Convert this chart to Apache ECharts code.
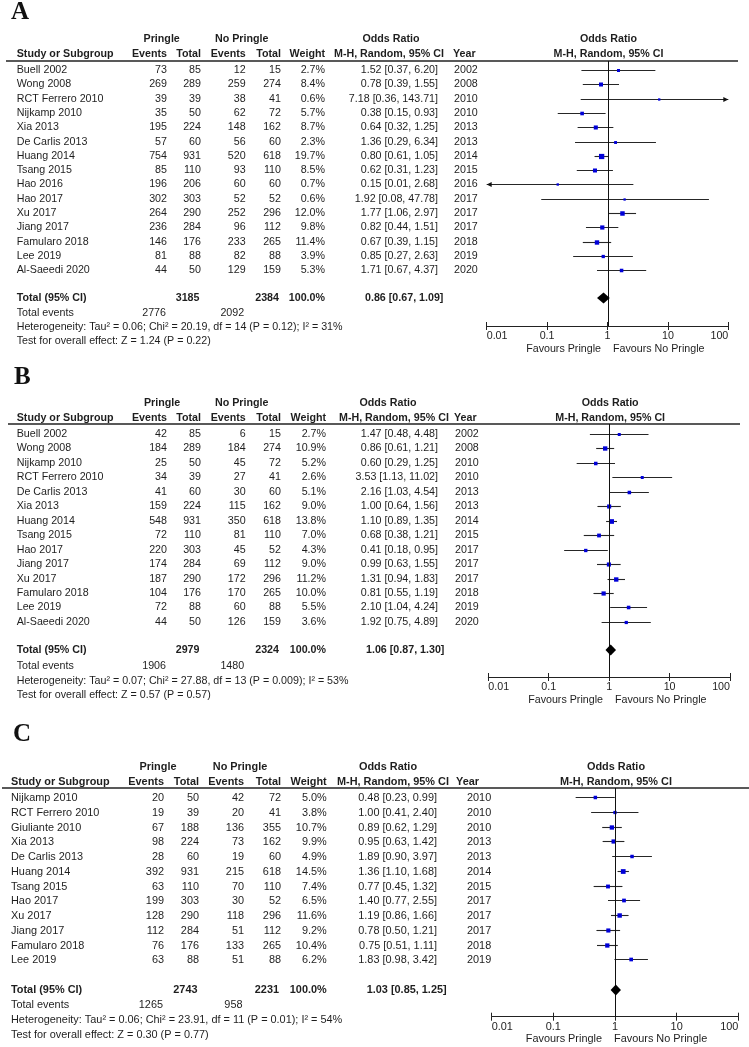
<!DOCTYPE html>
<html>
<head>
<meta charset="utf-8">
<script src="https://cdn.jsdelivr.net/npm/echarts@6.0.0/dist/echarts.min.js"></script>
<style>
html, body { margin: 0; padding: 0; background: #fff; }
#main { width: 749px; height: 1047px; }
</style>
</head>
<body>
<div id="main"></div>
<script>
// ---- panel A ----
var aStudies = ['Buell 2002', 'Wong 2008', 'RCT Ferrero 2010', 'Nijkamp 2010', 'Xia 2013', 'De Carlis 2013', 'Huang 2014', 'Tsang 2015', 'Hao 2016', 'Hao 2017', 'Xu 2017', 'Jiang 2017', 'Famularo 2018', 'Lee 2019', 'Al-Saeedi 2020'];
var aEvents1 = [73, 269, 39, 35, 195, 57, 754, 85, 196, 302, 264, 236, 146, 81, 44];
var aTotal1 = [85, 289, 39, 50, 224, 60, 931, 110, 206, 303, 290, 284, 176, 88, 50];
var aEvents2 = [12, 259, 38, 62, 148, 56, 520, 93, 60, 52, 252, 96, 233, 82, 129];
var aTotal2 = [15, 274, 41, 72, 162, 60, 618, 110, 60, 52, 296, 112, 265, 88, 159];
var aWeight = [2.7, 8.4, 0.6, 5.7, 8.7, 2.3, 19.7, 8.5, 0.7, 0.6, 12.0, 9.8, 11.4, 3.9, 5.3];
var aOR = [1.52, 0.78, 7.18, 0.38, 0.64, 1.36, 0.80, 0.62, 0.15, 1.92, 1.77, 0.82, 0.67, 0.85, 1.71];
var aLow = [0.37, 0.39, 0.36, 0.15, 0.32, 0.29, 0.61, 0.31, 0.01, 0.08, 1.06, 0.44, 0.39, 0.27, 0.67];
var aHigh = [6.20, 1.55, 143.71, 0.93, 1.25, 6.34, 1.05, 1.23, 2.68, 47.78, 2.97, 1.51, 1.15, 2.63, 4.37];
var aYear = [2002, 2008, 2010, 2010, 2013, 2013, 2014, 2015, 2016, 2017, 2017, 2017, 2018, 2019, 2020];
var aTotals = [3185, 2384];
var aTotalEvents = [2776, 2092];
var aPooled = [0.86, 0.67, 1.09];
var aHet = 'Heterogeneity: Tau² = 0.06; Chi² = 20.19, df = 14 (P = 0.12); I² = 31%';
var aTest = 'Test for overall effect: Z = 1.24 (P = 0.22)';

// ---- panel B ----
var bStudies = ['Buell 2002', 'Wong 2008', 'Nijkamp 2010', 'RCT Ferrero 2010', 'De Carlis 2013', 'Xia 2013', 'Huang 2014', 'Tsang 2015', 'Hao 2017', 'Jiang 2017', 'Xu 2017', 'Famularo 2018', 'Lee 2019', 'Al-Saeedi 2020'];
var bEvents1 = [42, 184, 25, 34, 41, 159, 548, 72, 220, 174, 187, 104, 72, 44];
var bTotal1 = [85, 289, 50, 39, 60, 224, 931, 110, 303, 284, 290, 176, 88, 50];
var bEvents2 = [6, 184, 45, 27, 30, 115, 350, 81, 45, 69, 172, 170, 60, 126];
var bTotal2 = [15, 274, 72, 41, 60, 162, 618, 110, 52, 112, 296, 265, 88, 159];
var bWeight = [2.7, 10.9, 5.2, 2.6, 5.1, 9.0, 13.8, 7.0, 4.3, 9.0, 11.2, 10.0, 5.5, 3.6];
var bOR = [1.47, 0.86, 0.60, 3.53, 2.16, 1.00, 1.10, 0.68, 0.41, 0.99, 1.31, 0.81, 2.10, 1.92];
var bLow = [0.48, 0.61, 0.29, 1.13, 1.03, 0.64, 0.89, 0.38, 0.18, 0.63, 0.94, 0.55, 1.04, 0.75];
var bHigh = [4.48, 1.21, 1.25, 11.02, 4.54, 1.56, 1.35, 1.21, 0.95, 1.55, 1.83, 1.19, 4.24, 4.89];
var bYear = [2002, 2008, 2010, 2010, 2013, 2013, 2014, 2015, 2017, 2017, 2017, 2018, 2019, 2020];
var bTotals = [2979, 2324];
var bTotalEvents = [1906, 1480];
var bPooled = [1.06, 0.87, 1.30];
var bHet = 'Heterogeneity: Tau² = 0.07; Chi² = 27.88, df = 13 (P = 0.009); I² = 53%';
var bTest = 'Test for overall effect: Z = 0.57 (P = 0.57)';

// ---- panel C ----
var cStudies = ['Nijkamp 2010', 'RCT Ferrero 2010', 'Giuliante 2010', 'Xia 2013', 'De Carlis 2013', 'Huang 2014', 'Tsang 2015', 'Hao 2017', 'Xu 2017', 'Jiang 2017', 'Famularo 2018', 'Lee 2019'];
var cEvents1 = [20, 19, 67, 98, 28, 392, 63, 199, 128, 112, 76, 63];
var cTotal1 = [50, 39, 188, 224, 60, 931, 110, 303, 290, 284, 176, 88];
var cEvents2 = [42, 20, 136, 73, 19, 215, 70, 30, 118, 51, 133, 51];
var cTotal2 = [72, 41, 355, 162, 60, 618, 110, 52, 296, 112, 265, 88];
var cWeight = [5.0, 3.8, 10.7, 9.9, 4.9, 14.5, 7.4, 6.5, 11.6, 9.2, 10.4, 6.2];
var cOR = [0.48, 1.00, 0.89, 0.95, 1.89, 1.36, 0.77, 1.40, 1.19, 0.78, 0.75, 1.83];
var cLow = [0.23, 0.41, 0.62, 0.63, 0.90, 1.10, 0.45, 0.77, 0.86, 0.50, 0.51, 0.98];
var cHigh = [0.99, 2.40, 1.29, 1.42, 3.97, 1.68, 1.32, 2.55, 1.66, 1.21, 1.11, 3.42];
var cYear = [2010, 2010, 2010, 2013, 2013, 2014, 2015, 2017, 2017, 2017, 2018, 2019];
var cTotals = [2743, 2231];
var cTotalEvents = [1265, 958];
var cPooled = [1.03, 0.85, 1.25];
var cHet = 'Heterogeneity: Tau² = 0.06; Chi² = 23.91, df = 11 (P = 0.01); I² = 54%';
var cTest = 'Test for overall effect: Z = 0.30 (P = 0.77)';

// page layout of each panel (pixels)
var panels = [
    {
        label: 'A', studies: aStudies, ev1: aEvents1, tot1: aTotal1, ev2: aEvents2, tot2: aTotal2,
        weight: aWeight, or: aOR, lo: aLow, hi: aHigh, year: aYear,
        totals: aTotals, totalEvents: aTotalEvents, pooled: aPooled, het: aHet, test: aTest,
        lay: {
            fs: 10.7, letterX: 11, letterY: 13, head1Y: 39, head2Y: 54, lineY: 61, lineX1: 6, lineX2: 738,
            row0: 70, sp: 14.3, totalY: 298, eventsY: 313, hetY: 327, testY: 341,
            axisY: 326, plotLeft: 486.7, plotRight: 728.3, favX: 607, favY: 349,
            nameX: 16.7, ev1R: 167, tot1R: 201, ev2R: 245.7, tot2R: 281, wR: 325, orR: 438, yearX: 454,
            pringleC: 161.7, noPringleC: 241.7, orC: 391, mhL: 334, yearHL: 453, pooledL: 365
        }
    },
    {
        label: 'B', studies: bStudies, ev1: bEvents1, tot1: bTotal1, ev2: bEvents2, tot2: bTotal2,
        weight: bWeight, or: bOR, lo: bLow, hi: bHigh, year: bYear,
        totals: bTotals, totalEvents: bTotalEvents, pooled: bPooled, het: bHet, test: bTest,
        lay: {
            fs: 10.7, letterX: 14, letterY: 378, head1Y: 403, head2Y: 418, lineY: 424, lineX1: 8, lineX2: 740,
            row0: 434, sp: 14.45, totalY: 650, eventsY: 666, hetY: 681, testY: 695,
            axisY: 677, plotLeft: 488.3, plotRight: 730, favX: 609, favY: 700,
            nameX: 16.7, ev1R: 167, tot1R: 201, ev2R: 245.7, tot2R: 281, wR: 326, orR: 438, yearX: 455,
            pringleC: 162, noPringleC: 241.7, orC: 388, mhL: 339, yearHL: 454, pooledL: 366
        }
    },
    {
        label: 'C', studies: cStudies, ev1: cEvents1, tot1: cTotal1, ev2: cEvents2, tot2: cTotal2,
        weight: cWeight, or: cOR, lo: cLow, hi: cHigh, year: cYear,
        totals: cTotals, totalEvents: cTotalEvents, pooled: cPooled, het: cHet, test: cTest,
        lay: {
            fs: 10.9, letterX: 13, letterY: 735, head1Y: 767, head2Y: 782, lineY: 788, lineX1: 2, lineX2: 749,
            row0: 797, sp: 14.77, totalY: 990, eventsY: 1005, hetY: 1020, testY: 1035,
            axisY: 1016.7, plotLeft: 491.7, plotRight: 738.3, favX: 608, favY: 1039,
            nameX: 11, ev1R: 164, tot1R: 199, ev2R: 244, tot2R: 281, wR: 326.7, orR: 437, yearX: 467,
            pringleC: 158, noPringleC: 240, orC: 388, mhL: 337, yearHL: 456, pooledL: 366.7
        }
    }
];

var INK = '#1e1e1e';
function fontOf(size, bold) {
    return (bold ? 'bold ' : '') + size + 'px "Liberation Sans", Arial, sans-serif';
}
function f2(v) { return v.toFixed(2); }
function ciText(o, l, h) { return f2(o) + ' [' + f2(l) + ', ' + f2(h) + ']'; }
function txt(x, y, text, align, font) {
    return {
        type: 'text', x: x, y: y, silent: true,
        style: { text: String(text), textAlign: align, textVerticalAlign: 'middle', font: font, fill: INK }
    };
}
function arrowHead(x, y, dir) {
    return {
        type: 'polygon',
        shape: { points: [[x, y], [x - dir * 5, y - 2.6], [x - dir * 5, y + 2.6]] },
        style: { fill: '#111' }
    };
}

var grids = [], xAxes = [], yAxes = [], series = [], graphics = [];

panels.forEach(function (p, k) {
    var L = p.lay;
    var yMin = -(L.row0 - L.lineY) / L.sp;
    var yMax = (L.axisY - L.row0) / L.sp;
    var totalRow = (L.totalY - L.row0) / L.sp;
    var fN = fontOf(L.fs, false), fB = fontOf(L.fs, true);

    grids.push({ left: L.plotLeft, width: L.plotRight - L.plotLeft, top: L.lineY, height: L.axisY - L.lineY });
    yAxes.push({ gridIndex: k, type: 'value', inverse: true, min: yMin, max: yMax, show: false });
    xAxes.push({
        gridIndex: k, type: 'log', logBase: 10, min: 0.01, max: 100, position: 'bottom', splitNumber: 4,
        axisLine: { onZero: false, lineStyle: { color: '#222', width: 1 } },
        axisTick: { inside: false, length: 4, lineStyle: { color: '#222' } },
        splitLine: { show: false },
        axisLabel: {
            color: INK, fontSize: L.fs, fontFamily: 'Liberation Sans', margin: 5,
            alignMinLabel: 'left', alignMaxLabel: 'right',
            formatter: function (v) { return String(parseFloat(Number(v).toPrecision(3))); }
        }
    });
    // second axis on the same line, only for the upward half of the ticks
    xAxes.push({
        gridIndex: k, type: 'log', logBase: 10, min: 0.01, max: 100, position: 'bottom', splitNumber: 4,
        axisLine: { show: false, onZero: false },
        axisTick: { inside: true, length: 4, lineStyle: { color: '#222' } },
        splitLine: { show: false },
        axisLabel: { show: false }
    });

    // study rows: CI line, weight square, table text
    series.push({
        type: 'custom', xAxisIndex: k * 2, yAxisIndex: k,
        encode: { x: [1, 2, 3], y: 0 },
        data: p.studies.map(function (s, i) { return [i, p.or[i], p.lo[i], p.hi[i]]; }),
        renderItem: function (params, api) {
            var i = params.dataIndex;
            var y = Math.round(api.coord([1, i])[1]) + 0.5;
            var lo = Math.max(p.lo[i], 0.01), hi = Math.min(p.hi[i], 100);
            var x0 = api.coord([lo, i])[0], x1 = api.coord([hi, i])[0];
            var xm = api.coord([p.or[i], i])[0];
            var s = 1.7 + Math.sqrt(p.weight[i]) * 0.8;
            var kids = [
                { type: 'line', shape: { x1: x0, y1: y, x2: x1, y2: y }, style: { stroke: '#262626', lineWidth: 1.1 } },
                { type: 'rect', shape: { x: xm - s / 2, y: y - s / 2, width: s, height: s }, style: { fill: '#0000d8' } }
            ];
            if (p.lo[i] <= 0.01) kids.push(arrowHead(x0, y, -1));
            if (p.hi[i] >= 100) kids.push(arrowHead(x1, y, 1));
            kids.push(txt(L.nameX, y, p.studies[i], 'left', fN));
            kids.push(txt(L.ev1R, y, p.ev1[i], 'right', fN));
            kids.push(txt(L.tot1R, y, p.tot1[i], 'right', fN));
            kids.push(txt(L.ev2R, y, p.ev2[i], 'right', fN));
            kids.push(txt(L.tot2R, y, p.tot2[i], 'right', fN));
            kids.push(txt(L.wR, y, p.weight[i].toFixed(1) + '%', 'right', fN));
            kids.push(txt(L.orR, y, ciText(p.or[i], p.lo[i], p.hi[i]), 'right', fN));
            kids.push(txt(L.yearX, y, p.year[i], 'left', fN));
            return { type: 'group', children: kids };
        }
    });

    // null line at OR = 1 and pooled diamond
    series.push({
        type: 'custom', xAxisIndex: k * 2, yAxisIndex: k,
        encode: { x: [1, 2, 3], y: 0 },
        data: [[totalRow, p.pooled[0], p.pooled[1], p.pooled[2]]],
        renderItem: function (params, api) {
            var r = api.value(0);
            var top = api.coord([1, yMin]), bot = api.coord([1, yMax]);
            var xl = Math.round(top[0]) + 0.5;
            var c = api.coord([api.value(1), r]);
            var l = api.coord([api.value(2), r]);
            var h = api.coord([api.value(3), r]);
            return {
                type: 'group', children: [
                    { type: 'line', shape: { x1: xl, y1: top[1], x2: xl, y2: bot[1] }, style: { stroke: '#111', lineWidth: 1 } },
                    {
                        type: 'polygon',
                        shape: { points: [[l[0], c[1]], [c[0], c[1] - 5.5], [h[0], c[1]], [c[0], c[1] + 5.5]] },
                        style: { fill: '#000' }
                    }
                ]
            };
        }
    });

    // headers, totals and footnotes
    var mid = (L.plotLeft + L.plotRight) / 2;
    graphics.push({
        type: 'text', x: L.letterX, y: L.letterY, silent: true,
        style: { text: p.label, textAlign: 'left', textVerticalAlign: 'middle', font: 'bold 25px "Liberation Serif", "Times New Roman", serif', fill: '#111' }
    });
    graphics.push(txt(L.pringleC, L.head1Y, 'Pringle', 'center', fB));
    graphics.push(txt(L.noPringleC, L.head1Y, 'No Pringle', 'center', fB));
    graphics.push(txt(L.orC, L.head1Y, 'Odds Ratio', 'center', fB));
    graphics.push(txt(mid + 1, L.head1Y, 'Odds Ratio', 'center', fB));
    graphics.push(txt(L.nameX, L.head2Y, 'Study or Subgroup', 'left', fB));
    graphics.push(txt(L.ev1R, L.head2Y, 'Events', 'right', fB));
    graphics.push(txt(L.tot1R, L.head2Y, 'Total', 'right', fB));
    graphics.push(txt(L.ev2R, L.head2Y, 'Events', 'right', fB));
    graphics.push(txt(L.tot2R, L.head2Y, 'Total', 'right', fB));
    graphics.push(txt(L.wR, L.head2Y, 'Weight', 'right', fB));
    graphics.push(txt(L.mhL, L.head2Y, 'M-H, Random, 95% CI', 'left', fB));
    graphics.push(txt(L.yearHL, L.head2Y, 'Year', 'left', fB));
    graphics.push(txt(mid + 1, L.head2Y, 'M-H, Random, 95% CI', 'center', fB));
    graphics.push({
        type: 'line', silent: true,
        shape: { x1: L.lineX1, y1: L.lineY, x2: L.lineX2, y2: L.lineY },
        style: { stroke: '#222', lineWidth: 1.5 }
    });

    graphics.push(txt(L.nameX, L.totalY, 'Total (95% CI)', 'left', fB));
    graphics.push(txt(L.tot1R - 1.5, L.totalY, p.totals[0], 'right', fB));
    graphics.push(txt(L.tot2R - 2, L.totalY, p.totals[1], 'right', fB));
    graphics.push(txt(L.wR, L.totalY, '100.0%', 'right', fB));
    graphics.push(txt(L.pooledL, L.totalY, ciText(p.pooled[0], p.pooled[1], p.pooled[2]), 'left', fB));
    graphics.push(txt(L.nameX, L.eventsY, 'Total events', 'left', fN));
    graphics.push(txt(L.ev1R - 1, L.eventsY, p.totalEvents[0], 'right', fN));
    graphics.push(txt(L.ev2R - 1.5, L.eventsY, p.totalEvents[1], 'right', fN));
    graphics.push(txt(L.nameX, L.hetY, p.het, 'left', fN));
    graphics.push(txt(L.nameX, L.testY, p.test, 'left', fN));
    graphics.push(txt(L.favX - 6, L.favY, 'Favours Pringle', 'right', fN));
    graphics.push(txt(L.favX + 6, L.favY, 'Favours No Pringle', 'left', fN));
});

var myChart = echarts.init(document.getElementById('main'), null, { renderer: 'canvas' });
myChart.setOption({
    animation: false,
    backgroundColor: '#fff',
    grid: grids,
    xAxis: xAxes,
    yAxis: yAxes,
    series: series,
    graphic: { elements: graphics }
});
</script>
</body>
</html>
